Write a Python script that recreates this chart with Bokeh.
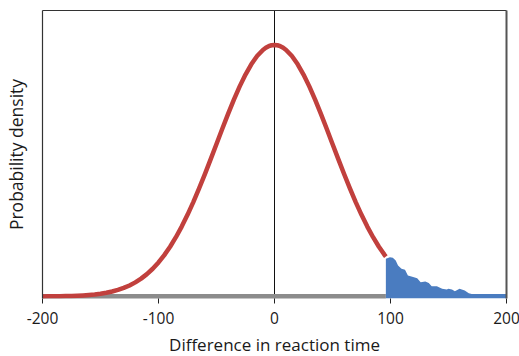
from bokeh.plotting import figure
from bokeh.models import Range1d, LinearAxis, FixedTicker, Span
from bokeh.embed import file_html
from bokeh.resources import INLINE

# ---- data (relative probability density, peak = 1) ----
curve_x = [-200, -195, -190, -185, -180, -175, -170, -165, -160, -155, -150,
           -145, -140, -135, -130, -125, -120, -115, -110, -105, -100,
           -95, -90, -85, -80, -75, -70, -65, -60, -55, -50,
           -45, -40, -35, -30, -25, -20, -15, -10, -7.5, -5, -2.5, 0,
           2.5, 5, 7.5, 10, 15, 20, 25, 30, 35, 40, 45, 50,
           55, 60, 65, 70, 75, 80, 85, 90, 95, 96]
curve_y = [0.0003, 0.0005, 0.0007, 0.0011, 0.0015, 0.0022, 0.0031, 0.0043, 0.0060, 0.0082, 0.0111,
           0.0149, 0.0198, 0.0261, 0.0340, 0.0439, 0.0561, 0.0710, 0.0889, 0.1103, 0.1353,
           0.1645, 0.1979, 0.2357, 0.2780, 0.3247, 0.3753, 0.4296, 0.4868, 0.5461, 0.6065,
           0.6670, 0.7261, 0.7827, 0.8353, 0.8825, 0.9231, 0.9560, 0.9802, 0.9888, 0.9950, 0.9988, 1.0,
           0.9988, 0.9950, 0.9888, 0.9802, 0.9560, 0.9231, 0.8825, 0.8353, 0.7827, 0.7261, 0.6670, 0.6065,
           0.5461, 0.4868, 0.4296, 0.3753, 0.3247, 0.2780, 0.2357, 0.1979, 0.1645, 0.1583]

tail_x = [96, 99.5, 102, 104.5, 106.5, 109.5, 112.5, 115, 119.5, 123, 126, 130, 133,
          135.5, 140, 144.5, 148.5, 150, 153, 155.5, 159.5, 164, 167.5, 170, 200]
tail_y = [0.150, 0.156, 0.154, 0.143, 0.123, 0.110, 0.106, 0.083, 0.077, 0.073, 0.057, 0.060, 0.054,
          0.041, 0.041, 0.031, 0.028, 0.031, 0.028, 0.021, 0.031, 0.024, 0.013, 0.010, 0.010]

baseline_x = [-200, 96]
baseline_y = [0, 0]

x_ticks = [-200, -100, 0, 100, 200]
x_tick_labels = {-200: "-200", -100: "-100", 0: "0", 100: "100", 200: "200"}
x_title = "Difference in reaction time"
y_title = "Probability density"

X_MIN, X_MAX = -200, 200
Y_MIN, Y_MAX = -0.008, 1.137

FONT = "Open Sans"

p = figure(frame_width=464, frame_height=288,
           x_range=Range1d(X_MIN, X_MAX), y_range=Range1d(Y_MIN, Y_MAX),
           output_backend="svg", toolbar_location=None,
           min_border_left=40, min_border_right=15, min_border_top=10, min_border_bottom=0,
           background_fill_color="white", border_fill_color="white")
p.outline_line_color = None
p.grid.visible = False

xa = p.xaxis[0]
xa.ticker = FixedTicker(ticks=x_ticks)
xa.major_label_overrides = x_tick_labels
xa.axis_line_color = None
xa.major_tick_out = 5
xa.major_tick_in = 0
xa.major_tick_line_color = "#222222"
xa.minor_tick_line_color = None
xa.major_label_text_font = FONT
xa.major_label_text_font_size = "15.5px"
xa.major_label_text_color = "#1a1a1a"
xa.major_label_standoff = 8
xa.axis_label = x_title
xa.axis_label_text_font = FONT
xa.axis_label_text_font_style = "normal"
xa.axis_label_text_font_size = "17px"
xa.axis_label_text_color = "#1a1a1a"
xa.axis_label_standoff = 6

ya = p.yaxis[0]
ya.ticker = FixedTicker(ticks=[])
ya.axis_line_color = "#333333"
ya.axis_line_width = 1.2
ya.major_tick_line_color = None
ya.minor_tick_line_color = None
ya.axis_label = y_title
ya.axis_label_text_font = FONT
ya.axis_label_text_font_style = "normal"
ya.axis_label_text_font_size = "17.5px"
ya.axis_label_text_color = "#1a1a1a"
ya.axis_label_standoff = 15

top = LinearAxis(ticker=FixedTicker(ticks=[]), axis_line_color="#333333", axis_line_width=1.2,
                 major_tick_line_color=None, minor_tick_line_color=None)
p.add_layout(top, "above")
right = LinearAxis(ticker=FixedTicker(ticks=[]), axis_line_color="#555555", axis_line_width=2,
                   major_tick_line_color=None, minor_tick_line_color=None)
p.add_layout(right, "right")

p.add_layout(Span(location=0, dimension="height", line_color="#111111", line_width=1, level="underlay"))

p.line(baseline_x, baseline_y, line_color="#8c8c8c", line_width=5)
p.varea(x=tail_x, y1=Y_MIN, y2=tail_y, fill_color="#4a7cc0")
p.line(curve_x, curve_y, line_color="#c1403d", line_width=4.5, line_join="round")

open("out.html", "w").write(file_html(p, INLINE))
